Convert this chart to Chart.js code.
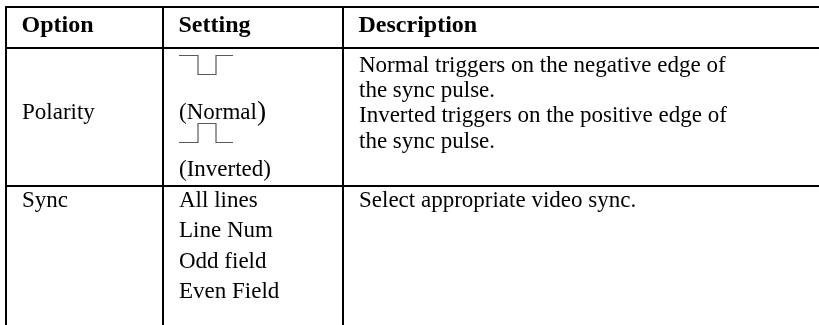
<!DOCTYPE html>
<html>
<head>
<meta charset="utf-8">
<script src="https://cdn.jsdelivr.net/npm/chart.js@4/dist/chart.umd.min.js"></script>
<style>
  html,body{margin:0;padding:0;background:#fff;}
  #wrap{width:819px;height:325px;position:relative;}
  .pre{position:absolute;left:-9999px;top:0;font-family:"Liberation Serif";}
</style>
</head>
<body>
<span class="pre">Aa <b>Bb</b></span>
<div id="wrap"><canvas id="c" width="819" height="325"></canvas></div>
<script>
// ---- table content ----
const headers = ['Option', 'Setting', 'Description'];
const options = ['Polarity', 'Sync'];
const polaritySettings = ['(Normal)', '(Inverted)'];
const polarityPulses = ['negative', 'positive'];
const syncSettings = ['All lines', 'Line Num', 'Odd field', 'Even Field'];
const polarityDescription = [
  'Normal triggers on the negative edge of',
  'the sync pulse.',
  'Inverted triggers on the positive edge of',
  'the sync pulse.'
];
const syncDescription = ['Select appropriate video sync.'];

// ---- layout (table units on the chart's scales) ----
const colEdges = [6, 163, 343];
const rowEdges = [7, 48, 186];
const FONT = '"Liberation Serif"';
const FS = 23;
const HFS = 24;

function txt(ctx, s, x, y, bold, size) {
  ctx.save();
  ctx.font = (bold ? 'bold ' : '') + (size || FS) + 'px ' + FONT;
  ctx.fillText(s, x, y);
  ctx.restore();
}

const tablePlugin = {
  id: 'table',
  afterDraw(chart) {
    const ctx = chart.ctx;
    const xs = chart.scales.x, ys = chart.scales.y;
    const X = v => xs.getPixelForValue(v);
    const Y = v => ys.getPixelForValue(v);
    const right = chart.chartArea.right, bottom = chart.chartArea.bottom;
    ctx.save();
    ctx.strokeStyle = '#000';
    ctx.lineWidth = 2;
    ctx.beginPath();
    rowEdges.forEach(r => { ctx.moveTo(X(colEdges[0]) - 1, Y(r)); ctx.lineTo(right, Y(r)); });
    colEdges.forEach(c => { ctx.moveTo(X(c), Y(rowEdges[0]) - 1); ctx.lineTo(X(c), bottom); });
    ctx.stroke();

    ctx.fillStyle = '#000';
    ctx.textBaseline = 'alphabetic';
    const pad = 16;
    const cx = colEdges.map(c => X(c) + pad);
    headers.forEach((h, i) => txt(ctx, h, cx[i] - 0.5, Y(32), true, HFS));
    txt(ctx, options[0], cx[0], Y(119));
    ctx.strokeStyle = '#5a5a5a';
    ctx.lineWidth = 1.2;
    const pulseTops = [55, 123];
    polarityPulses.forEach((p, i) => {
      const t = Y(pulseTops[i]), b = Y(pulseTops[i] + 19);
      const x0 = cx[1], x1 = cx[1] + 18.5, x2 = cx[1] + 36.5, x3 = cx[1] + 54;
      const hi = p === 'negative' ? t : b, lo = p === 'negative' ? b : t;
      ctx.beginPath();
      ctx.moveTo(x0, hi + 0.5); ctx.lineTo(x1 + 0.5, hi + 0.5); ctx.lineTo(x1 + 0.5, lo + 0.5);
      ctx.lineTo(x2 + 0.5, lo + 0.5); ctx.lineTo(x2 + 0.5, hi + 0.5); ctx.lineTo(x3, hi + 0.5);
      ctx.stroke();
    });
    const nm = polaritySettings[0];
    const inner = nm.slice(0, -1);
    ctx.font = FS + 'px ' + FONT;
    const w = ctx.measureText(inner).width;
    txt(ctx, inner, cx[1], Y(119));
    txt(ctx, ')', cx[1] + w, Y(120), false, FS * 1.2);
    txt(ctx, polaritySettings[1], cx[1], Y(176));
    polarityDescription.forEach((s, i) => txt(ctx, s, cx[2], Y(72 + i * 25.2)));
    txt(ctx, options[1], cx[0], Y(207));
    syncSettings.forEach((s, i) => txt(ctx, s, cx[1], Y(207 + i * 30.3)));
    syncDescription.forEach((s, i) => txt(ctx, s, cx[2], Y(207 + i * 25.2)));
    ctx.restore();
  }
};

function build() {
  new Chart(document.getElementById('c'), {
    type: 'scatter',
    data: { datasets: [] },
    options: {
      responsive: false,
      animation: false,
      events: [],
      layout: { padding: 0 },
      plugins: { legend: { display: false }, tooltip: { enabled: false } },
      scales: {
        x: { type: 'linear', min: 0, max: 819, display: false },
        y: { type: 'linear', min: 0, max: 325, reverse: true, display: false }
      }
    },
    plugins: [tablePlugin]
  });
}
Promise.all([
  document.fonts.load('23px "Liberation Serif"'),
  document.fonts.load('bold 24px "Liberation Serif"')
]).then(build, build);
</script>
</body>
</html>
